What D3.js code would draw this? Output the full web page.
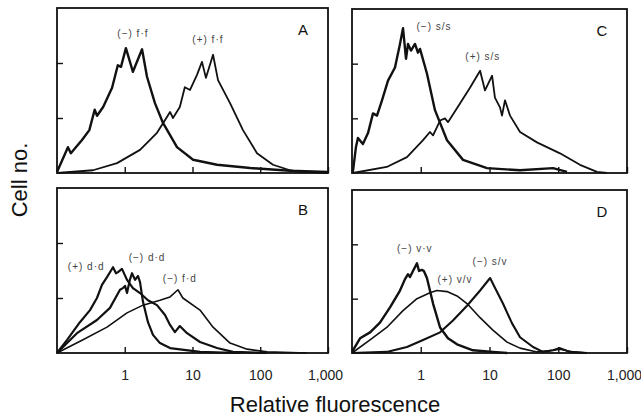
<!DOCTYPE html>
<html>
<head>
<meta charset="utf-8">
<script src="https://cdn.jsdelivr.net/npm/d3@7"></script>
<style>
  body { margin: 0; background: #fff; }
  svg { display: block; font-family: "Liberation Sans", Arial, sans-serif; }
  .note { font-size: 10px; letter-spacing: 1px; fill: #444; }
  .tick text { font-size: 14px; fill: #222; }
</style>
</head>
<body>
<div id="chart"></div>
<script>
var svgWidth = 641;
var svgHeight = 419;

// x ticks shared by all four panels
var xTicks = [1, 10, 100, 1000];
var xTickLabels = ["1", "10", "100", "1,000"];
var yTicks = [1, 2];

// panel A
var aNegX = [0.1, 0.145, 0.16, 0.234, 0.30, 0.36, 0.39, 0.48, 0.65, 0.79, 0.88, 1.04, 1.32, 1.80, 2.13, 2.79, 3.67, 5.9, 10.2, 23, 71, 275, 1000];
var aNegY = [0.02, 0.47, 0.36, 0.60, 0.78, 1.15, 1.04, 1.20, 1.55, 1.96, 1.93, 2.27, 1.84, 2.25, 1.75, 1.27, 0.91, 0.47, 0.24, 0.15, 0.09, 0.04, 0.02];
var aPosX = [0.1, 0.34, 0.77, 1.68, 2.99, 4.2, 4.66, 5.15, 6.5, 7.7, 9.2, 11.6, 13.8, 15.8, 20.1, 23.8, 35.8, 55.6, 89.5, 154, 275, 386, 1000];
var aPosY = [0, 0.05, 0.18, 0.42, 0.73, 1.02, 1.11, 1.00, 1.20, 1.56, 1.51, 1.78, 2.02, 1.73, 2.15, 1.69, 1.27, 0.78, 0.36, 0.15, 0.05, 0.02, 0];

// panel B
var bDdPosX = [0.1, 0.141, 0.218, 0.307, 0.389, 0.461, 0.547, 0.671, 0.743, 0.795, 0.91, 1.08, 1.32, 1.68, 2.2, 2.99, 3.93, 4.66, 5.5, 6.5, 8.3, 12.9, 23, 39.6, 126];
var bDdPosY = [0, 0.24, 0.56, 0.78, 1.00, 1.24, 1.38, 1.56, 1.45, 1.47, 1.53, 1.33, 1.18, 1.09, 0.96, 0.87, 0.69, 0.51, 0.38, 0.49, 0.36, 0.20, 0.09, 0.02, 0];
var bDdNegX = [0.1, 0.197, 0.389, 0.605, 0.851, 0.94, 1.01, 1.08, 1.19, 1.28, 1.42, 1.57, 1.68, 1.86, 2.2, 2.61, 3.31, 4.66, 12.9, 50];
var bDdNegY = [0, 0.36, 0.60, 0.82, 1.15, 1.18, 1.22, 1.09, 1.33, 1.45, 1.33, 1.40, 1.29, 0.93, 0.56, 0.33, 0.18, 0.09, 0.02, 0];
var bFdX = [0.1, 0.242, 0.547, 1.08, 1.86, 3.31, 4.66, 6.1, 7.2, 12.9, 20.1, 35.8, 64, 126, 490];
var bFdY = [0, 0.24, 0.47, 0.73, 0.87, 0.96, 1.02, 1.15, 1.00, 0.78, 0.47, 0.18, 0.07, 0.02, 0];

// panel C
var cNegX = [0.103, 0.114, 0.122, 0.144, 0.171, 0.202, 0.231, 0.273, 0.334, 0.422, 0.499, 0.552, 0.61, 0.653, 0.721, 0.824, 0.91, 0.975, 1.23, 1.61, 2.41, 4.12, 9.2, 27.8, 84, 134];
var cNegY = [0.02, 0.47, 0.64, 0.53, 0.73, 1.09, 1.05, 1.33, 1.69, 1.93, 2.36, 2.65, 2.09, 2.36, 2.24, 2.36, 2.20, 2.27, 1.82, 1.15, 0.60, 0.24, 0.09, 0.05, 0.09, 0.02];
var cPosX = [0.103, 0.32, 0.63, 1.08, 1.36, 1.51, 1.91, 2.25, 2.49, 3.72, 5.2, 7.3, 8.6, 10.9, 12.0, 14.2, 15.2, 16.8, 19.9, 27.8, 49, 106, 207, 366, 512];
var cPosY = [0, 0.11, 0.29, 0.60, 0.75, 0.69, 0.96, 1.00, 0.93, 1.27, 1.56, 1.87, 1.51, 1.78, 1.38, 1.20, 1.05, 1.33, 1.05, 0.75, 0.56, 0.36, 0.15, 0.02, 0];

// panel D
var dVvNegX = [0.1, 0.131, 0.183, 0.255, 0.357, 0.499, 0.59, 0.653, 0.698, 0.771, 0.881, 0.944, 1.04, 1.11, 1.23, 1.51, 1.91, 2.49, 3.37, 5.75, 11.2, 18];
var dVvNegY = [0.02, 0.27, 0.38, 0.56, 0.84, 1.15, 1.36, 1.45, 1.40, 1.51, 1.65, 1.51, 1.53, 1.51, 1.38, 0.91, 0.47, 0.27, 0.16, 0.05, 0.02, 0];
var dVvPosX = [0.1, 0.183, 0.32, 0.552, 0.881, 1.36, 1.72, 2.41, 3.37, 4.71, 7.3, 11.2, 18, 27.8, 49, 84, 106, 164, 262];
var dVvPosY = [0, 0.24, 0.47, 0.78, 1.00, 1.11, 1.15, 1.13, 1.05, 0.91, 0.65, 0.42, 0.20, 0.09, 0.02, 0.05, 0.07, 0.02, 0];
var dSvX = [0.1, 0.32, 0.63, 1.08, 1.91, 2.94, 4.71, 7.3, 10.2, 12.0, 15.7, 21.2, 27.8, 43, 60, 84, 106, 148, 262];
var dSvY = [0, 0.02, 0.11, 0.24, 0.38, 0.60, 0.87, 1.15, 1.38, 1.20, 0.91, 0.55, 0.29, 0.11, 0.02, 0.05, 0.09, 0.02, 0];

// curve labels: text, x (fluorescence), y (cell no.)
var aNotes = [["(−) f·f", 1.32, 2.47], ["(+) f·f", 16.9, 2.36]];
var bNotes = [["(+) d·d", 0.27, 1.51], ["(−) d·d", 2.13, 1.67], ["(−) f·d", 6.5, 1.29]];
var cNotes = [["(−) s/s", 1.56, 2.62], ["(+) s/s", 8.0, 2.07]];
var dNotes = [["(−) v·v", 0.82, 1.85], ["(−) s/v", 10.2, 1.62], ["(+) v/v", 3.15, 1.29]];

function zip(xs, ys) {
  return xs.map(function(x, i) { return [x, ys[i]]; });
}

var panels = [
  { name: "A", left: 57, top: 8, right: 328, bottom: 173, labels: false, notes: aNotes,
    curves: [{ d: zip(aNegX, aNegY), w: 2.4 }, { d: zip(aPosX, aPosY), w: 1.8 }] },
  { name: "C", left: 352, top: 9, right: 627, bottom: 173, labels: false, notes: cNotes,
    curves: [{ d: zip(cNegX, cNegY), w: 2.4 }, { d: zip(cPosX, cPosY), w: 1.8 }] },
  { name: "B", left: 57, top: 188, right: 328, bottom: 353, labels: true, notes: bNotes,
    curves: [{ d: zip(bDdPosX, bDdPosY), w: 2.2 }, { d: zip(bDdNegX, bDdNegY), w: 2.2 }, { d: zip(bFdX, bFdY), w: 1.6 }] },
  { name: "D", left: 352, top: 190, right: 627, bottom: 353, labels: true, notes: dNotes,
    curves: [{ d: zip(dVvNegX, dVvNegY), w: 2.4 }, { d: zip(dVvPosX, dVvPosY), w: 1.6 }, { d: zip(dSvX, dSvY), w: 2.1 }] }
];

var svg = d3.select("#chart")
  .append("svg")
  .attr("width", svgWidth)
  .attr("height", svgHeight);

panels.forEach(function(p) {
  var x = d3.scaleLog().domain([0.1, 1000]).range([p.left, p.right]);
  var y = d3.scaleLinear().domain([0, 3]).range([p.bottom, p.top]);

  var g = svg.append("g");

  var bottomAxis = d3.axisBottom(x)
    .tickValues(xTicks)
    .tickSize(-6)
    .tickPadding(17)
    .tickFormat(function(d, i) { return p.labels ? xTickLabels[i] : ""; });

  var xAxis = g.append("g")
    .attr("transform", `translate(0, ${p.bottom})`)
    .call(bottomAxis);
  xAxis.select(".domain").remove();
  xAxis.selectAll(".tick line").attr("stroke", "#111").attr("stroke-width", 1.4);
  // last label sits at the page edge, nudge it in a bit
  xAxis.selectAll(".tick text").filter(function(d) { return d === 1000; }).attr("dx", -3);

  var yAxis = g.append("g")
    .attr("transform", `translate(${p.left}, 0)`)
    .call(d3.axisLeft(y).tickValues(yTicks).tickSize(-6).tickFormat(""));
  yAxis.select(".domain").remove();
  yAxis.selectAll(".tick line").attr("stroke", "#111").attr("stroke-width", 1.4);

  var line = d3.line()
    .x(function(d) { return x(d[0]); })
    .y(function(d) { return y(d[1]); });

  p.curves.forEach(function(c) {
    g.append("path")
      .attr("d", line(c.d))
      .attr("fill", "none")
      .attr("stroke", "#111")
      .attr("stroke-width", c.w)
      .attr("stroke-linejoin", "round");
  });

  g.selectAll("text.note")
    .data(p.notes)
    .enter()
    .append("text")
    .attr("class", "note")
    .attr("x", function(d) { return x(d[1]); })
    .attr("y", function(d) { return y(d[2]); })
    .attr("text-anchor", "middle")
    .text(function(d) { return d[0]; });

  // frame
  g.append("rect")
    .attr("x", p.left)
    .attr("y", p.top)
    .attr("width", p.right - p.left)
    .attr("height", p.bottom - p.top)
    .attr("fill", "none")
    .attr("stroke", "#111")
    .attr("stroke-width", 1.8);

  g.append("text")
    .attr("x", p.right - 25)
    .attr("y", p.top + 27)
    .attr("text-anchor", "middle")
    .attr("font-size", 15)
    .attr("fill", "#111")
    .text(p.name);
});

svg.append("text")
  .attr("transform", "translate(27, 180) rotate(-90)")
  .attr("text-anchor", "middle")
  .attr("font-size", 22)
  .attr("fill", "#111")
  .text("Cell no.");

svg.append("text")
  .attr("x", 335)
  .attr("y", 412)
  .attr("text-anchor", "middle")
  .attr("font-size", 22)
  .attr("fill", "#111")
  .text("Relative fluorescence");
</script>
</body>
</html>
